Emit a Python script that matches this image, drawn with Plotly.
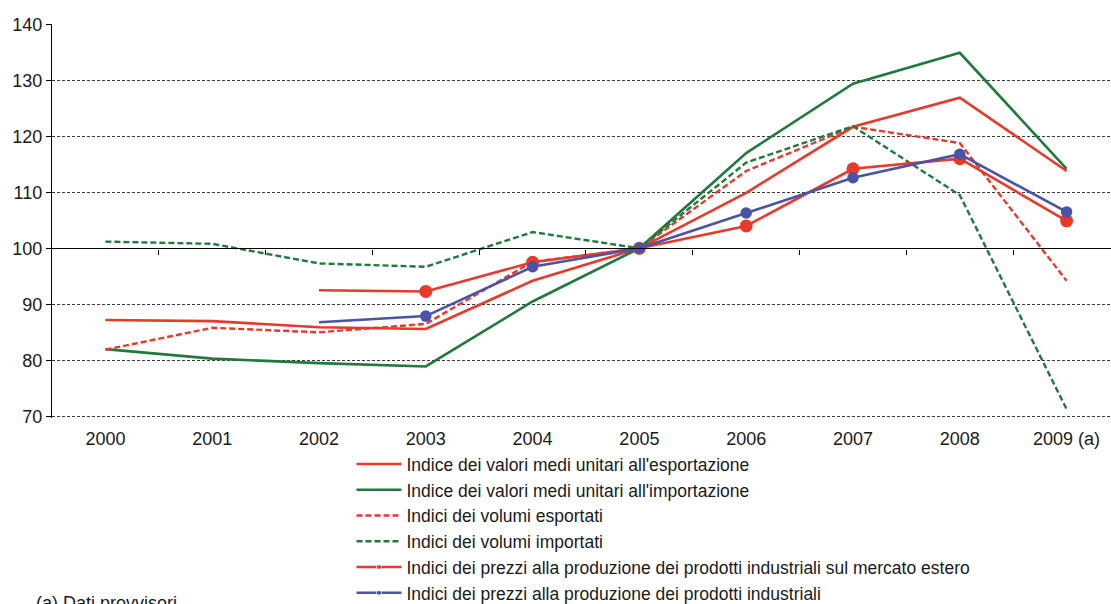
import plotly.graph_objects as go

# Years (2009 provisional)
years = ["2000", "2001", "2002", "2003", "2004", "2005", "2006", "2007", "2008", "2009 (a)"]

# Index series, base 2005 = 100
valori_export = [87.2, 87.0, 85.9, 85.6, 94.2, 100.0, 109.9, 121.7, 126.9, 113.8]
valori_import = [82.0, 80.3, 79.5, 78.9, 90.5, 100.0, 117.0, 129.4, 134.9, 114.2]
volumi_export = [81.9, 85.8, 85.0, 86.5, 97.6, 100.0, 113.8, 121.7, 118.8, 94.2]
volumi_import = [101.2, 100.8, 97.3, 96.7, 102.9, 100.0, 115.3, 121.8, 109.5, 71.3]

# Producer price series start in 2002
prezzi_years = years[2:]
prezzi_estero = [92.5, 92.3, 97.5, 100.0, 104.0, 114.2, 116.0, 104.9]
prezzi_industriali = [86.8, 87.9, 96.7, 100.0, 106.3, 112.6, 116.8, 106.5]

names = [
    "Indice dei valori medi unitari all'esportazione",
    "Indice dei valori medi unitari all'importazione",
    "Indici dei volumi esportati",
    "Indici dei volumi importati",
    "Indici dei prezzi alla produzione dei prodotti industriali sul mercato estero",
    "Indici dei prezzi alla produzione dei prodotti industriali",
]

RED = "#E8392B"
GREEN = "#1F7A3C"
BLUE = "#4A53A7"
FONT = "Liberation Sans, Arial, sans-serif"

Y_MIN, Y_MAX = 69.7, 140.05

fig = go.Figure()

fig.add_trace(go.Scatter(x=years, y=valori_export, name=names[0], mode="lines",
                         line=dict(color=RED, width=2.6)))
fig.add_trace(go.Scatter(x=years, y=valori_import, name=names[1], mode="lines",
                         line=dict(color=GREEN, width=2.6)))
fig.add_trace(go.Scatter(x=years, y=volumi_export, name=names[2], mode="lines",
                         line=dict(color=RED, width=2.4, dash="6px,3px")))
fig.add_trace(go.Scatter(x=years, y=volumi_import, name=names[3], mode="lines",
                         line=dict(color=GREEN, width=2.4, dash="6px,3px")))


def price_series(y, color, name, big):
    # line with a small dot for the legend; first year carries no marker
    small = [0] + [6] * (len(y) - 1)
    fig.add_trace(go.Scatter(x=prezzi_years, y=y, name=name, mode="lines+markers",
                             line=dict(color=color, width=2.6),
                             marker=dict(color=color, size=small)))
    fig.add_trace(go.Scatter(x=prezzi_years[1:], y=y[1:], mode="markers",
                             showlegend=False, hoverinfo="skip",
                             marker=dict(color=color, size=big)))


price_series(prezzi_estero, RED, names[4], 13)
price_series(prezzi_industriali, BLUE, names[5], 11.5)

# empty carrier so the base-100 axis (ticks at year boundaries) is drawn
fig.add_trace(go.Scatter(x=[None], y=[None], xaxis="x2", yaxis="y",
                         showlegend=False, hoverinfo="skip", mode="lines"))

fig.update_layout(
    width=1111, height=604,
    margin=dict(l=52, r=0, t=24, b=186, autoexpand=False),
    paper_bgcolor="white", plot_bgcolor="white",
    font=dict(family=FONT, size=18, color="#1a1a1a"),
    showlegend=True,
    legend=dict(x=0.2828, xanchor="left", y=-0.0715, yanchor="top",
                orientation="v", bgcolor="rgba(0,0,0,0)", itemwidth=45,
                font=dict(size=17.5), tracegroupgap=0),
    xaxis=dict(type="category", range=[-0.5, 9.416],
               showgrid=False, showline=False, ticks="", zeroline=False,
               ticklabelstandoff=8, tickfont=dict(size=18)),
    xaxis2=dict(overlaying="x", anchor="free", position=(100 - Y_MIN) / (Y_MAX - Y_MIN),
                range=[-0.5, 9.416], showgrid=False, showline=True,
                linecolor="black", linewidth=1.4, ticks="outside",
                ticklen=5, tickcolor="black", tickwidth=1.3,
                tickvals=[i + 0.5 for i in range(9)],
                showticklabels=False, zeroline=False),
    yaxis=dict(range=[Y_MIN, Y_MAX], tickvals=[70, 80, 90, 100, 110, 120, 130, 140],
               showgrid=True, gridcolor="#3a3a3a", gridwidth=1,
               griddash="3px,2px", zeroline=False,
               showline=True, linecolor="black", linewidth=1.4,
               ticks="outside", ticklen=5, tickcolor="black",
               tickfont=dict(size=18)),
    annotations=[dict(text="(a) Dati provvisori", xref="paper", yref="paper",
                      x=-0.017, y=-0.44, xanchor="left", yanchor="top",
                      showarrow=False, font=dict(size=18))],
)

fig.write_html("out.html")
